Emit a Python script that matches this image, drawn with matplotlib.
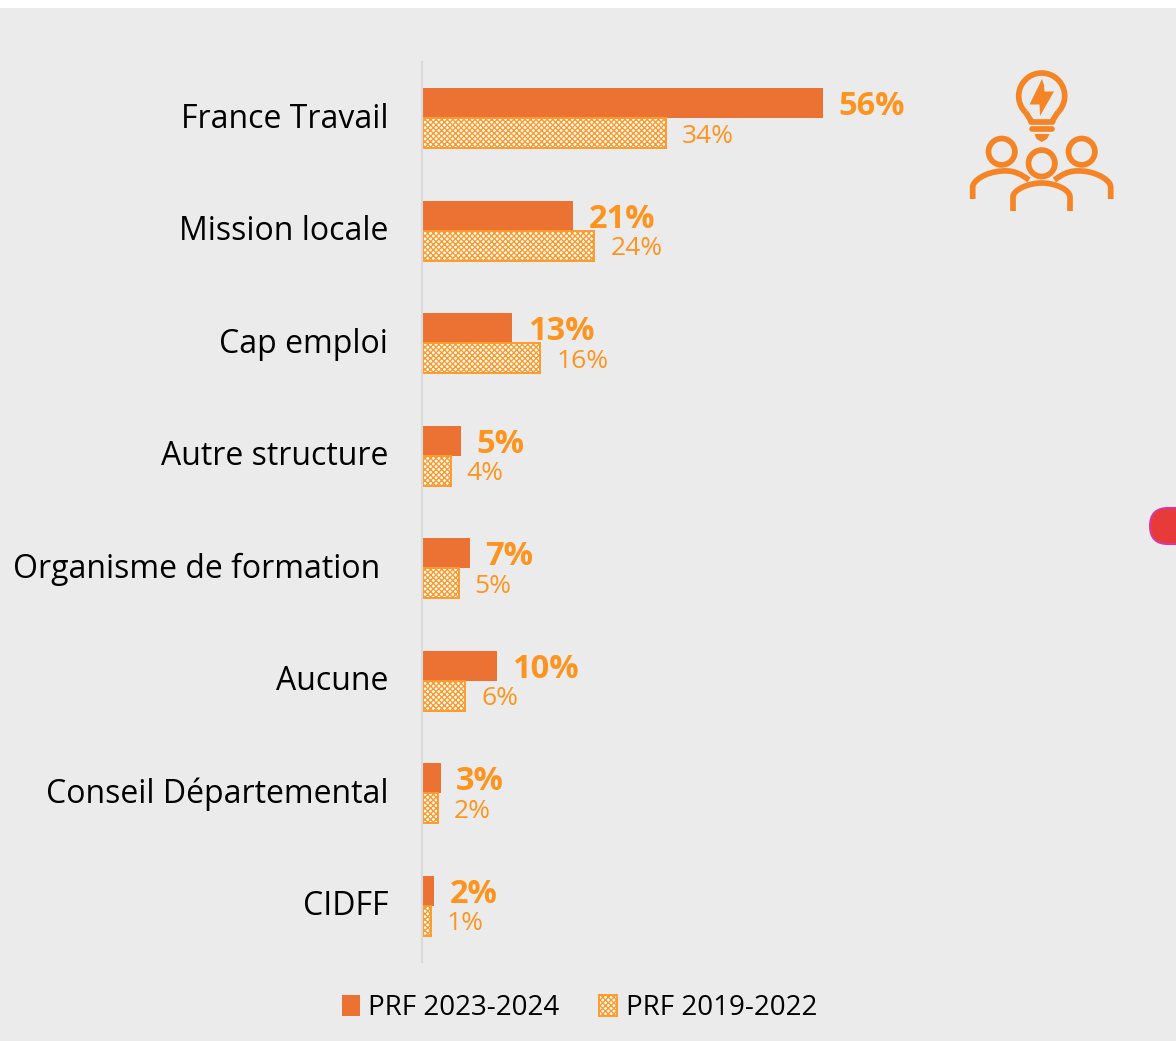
import matplotlib
matplotlib.use('Agg')
import matplotlib.pyplot as plt
from matplotlib.patches import Arc, Circle, FancyBboxPatch, Patch, PathPatch, Polygon, Rectangle
from matplotlib.path import Path
import numpy as np

plt.rcParams['font.family'] = ['Open Sans', 'DejaVu Sans']
plt.rcParams['hatch.linewidth'] = 1.0

categories = ['France Travail', 'Mission locale', 'Cap emploi', 'Autre structure',
              'Organisme de formation ', 'Aucune', 'Conseil Départemental', 'CIDFF']
# longueurs, les etiquettes sont arrondies
prf_2023 = [56, 21, 12.5, 5.3, 6.6, 10.3, 2.5, 1.6]
prf_2019 = [34, 24, 16.4, 3.9, 5, 5.9, 2.1, 1.1]
labels_2023 = ['56%', '21%', '13%', '5%', '7%', '10%', '3%', '2%']
labels_2019 = ['34%', '24%', '16%', '4%', '5%', '6%', '2%', '1%']

W, H = 1176, 1041
bar_col = '#EB7233'
edge_col = '#FF9B2E'
lab_col = '#FF9420'
icon_col = '#F58426'

fig = plt.figure(figsize=(W / 100, H / 100), dpi=100, facecolor='white')

# fond et decor en coordonnees pixels
bg = fig.add_axes([0, 0, 1, 1])
bg.set_xlim(0, W)
bg.set_ylim(H, 0)
bg.axis('off')
bg.add_patch(Rectangle((0, 8), W, H - 8, fc='#EBEBEB', ec='none'))

ax = fig.add_axes([423 / W, 1 - 962 / H, (W - 423) / W, 900 / H])
ax.patch.set_alpha(0)
y = np.arange(len(categories))
h = 30 / 112.5
ax.barh(y - h / 2, prf_2023, height=h, color=bar_col, linewidth=0)
ax.barh(y + h / 2, prf_2019, height=h, facecolor='white', edgecolor=edge_col,
        linewidth=1.4, hatch='xxxxxx')
ax.set_xlim(0, (W - 423) / 7.145)
ax.set_ylim(7.5, -0.5)
ax.set_yticks([])
ax.set_xticks([])
for s in ['top', 'right', 'bottom']:
    ax.spines[s].set_visible(False)
ax.spines['left'].set_color('#D9D9D9')
ax.spines['left'].set_linewidth(1.5)
ax.spines['left'].set_position(('outward', 0.7))

for i in range(len(categories)):
    ax.annotate(categories[i], (0, y[i]), xytext=(-25, -0.8),
                textcoords='offset points', va='center', ha='right', color='black',
                fontsize=23)
    ax.annotate(labels_2023[i], (prf_2023[i], y[i] - h / 2), xytext=(11, -2.5),
                textcoords='offset points', va='center', ha='left', color=lab_col,
                fontsize=23.5, fontweight='bold')
    ax.annotate(labels_2019[i], (prf_2019[i], y[i] + h / 2), xytext=(11.5, -2),
                textcoords='offset points', va='center', ha='left', color=lab_col,
                fontsize=19)

handles = [Patch(facecolor=bar_col, edgecolor='none', label='PRF 2023-2024'),
           Patch(facecolor='white', edgecolor=edge_col, hatch='xxxxxx', linewidth=1.4,
                 label='PRF 2019-2022')]
fig.legend(handles=handles, loc='center', bbox_to_anchor=(579.5 / W, 1 - 1008 / H), ncol=2,
           frameon=False, fontsize=20, handlelength=0.65, handleheight=0.8,
           handletextpad=0.29, columnspacing=1.44, labelcolor='black')

# icone
lw = 4.1
stroke = dict(fc='none', ec=icon_col, lw=lw, capstyle='butt', joinstyle='round')
bg.add_patch(Arc((1041.7, 96), 46, 46, theta1=135, theta2=45, ec=icon_col, lw=lw))
neck = Path([(1025.5, 112), (1030.5, 120), (1031, 122), (1052.5, 122), (1053, 120), (1058, 112)],
            [Path.MOVETO, Path.LINETO, Path.LINETO, Path.LINETO, Path.LINETO, Path.LINETO])
bg.add_patch(PathPatch(neck, **stroke))
bg.plot([1032, 1052], [129, 129], color=icon_col, lw=lw, solid_capstyle='round')
bg.add_patch(Polygon([(1034.5, 134), (1049.5, 134), (1047, 139), (1041.7, 142), (1036.5, 139)],
                     fc=icon_col, ec='none'))
bg.add_patch(Polygon([(1042, 79), (1029.5, 104.5), (1039.5, 104.5), (1040, 116),
                      (1054, 91.5), (1044.5, 91.5), (1044, 85)], fc=icon_col, ec='none'))
for cx, cy in [(1001.7, 151.7), (1081.7, 151.7), (1041.7, 163.3)]:
    bg.add_patch(Circle((cx, cy), 13.2, **stroke))
curve = [Path.MOVETO, Path.LINETO, Path.CURVE4, Path.CURVE4, Path.CURVE4, Path.CURVE4, Path.CURVE4, Path.CURVE4]
left = [(972.7, 199), (972.7, 187), (972.7, 181), (985, 172), (1002, 171), (1015, 170), (1022, 175), (1029, 180)]
right = [(2083.4 - a, b) for a, b in left]
bg.add_patch(PathPatch(Path(left, curve), **stroke))
bg.add_patch(PathPatch(Path(right, curve), **stroke))
mid = Path([(1013, 211), (1013, 197), (1013, 190), (1028, 183), (1041.7, 183), (1056, 183), (1070, 190), (1070, 197), (1070, 211)],
           [Path.MOVETO, Path.LINETO, Path.CURVE4, Path.CURVE4, Path.CURVE4, Path.CURVE4, Path.CURVE4, Path.CURVE4, Path.LINETO])
bg.add_patch(PathPatch(mid, **stroke))

# pastille rouge coupee au bord droit
bg.add_patch(FancyBboxPatch((1150, 508), 60, 36, boxstyle='round,pad=0,rounding_size=18',
                            fc='#E93A3A', ec='#D63A9E', lw=1.5))

fig.savefig('out.png', dpi=100)
